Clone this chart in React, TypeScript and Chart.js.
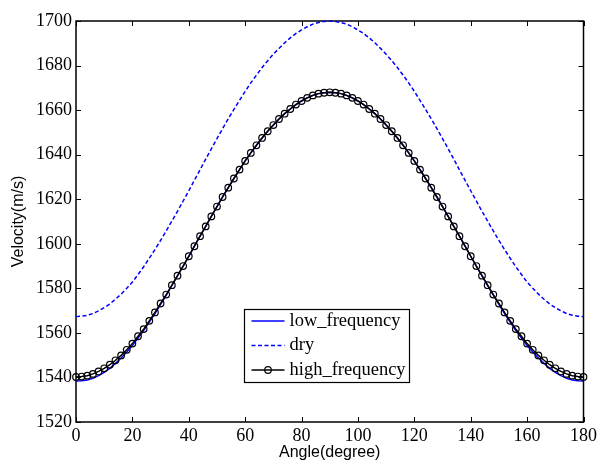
import React, { useEffect, useRef } from "react";
import { Chart, registerables } from "chart.js";

Chart.register(...registerables);

const angles = [
  0, 2, 4, 6, 8, 10, 12, 14, 16, 18, 20, 22, 24, 26, 28, 30, 32, 34, 36, 38,
  40, 42, 44, 46, 48, 50, 52, 54, 56, 58, 60, 62, 64, 66, 68, 70, 72, 74, 76, 78,
  80, 82, 84, 86, 88, 90, 92, 94, 96, 98, 100, 102, 104, 106, 108, 110, 112, 114, 116, 118,
  120, 122, 124, 126, 128, 130, 132, 134, 136, 138, 140, 142, 144, 146, 148, 150, 152, 154, 156, 158,
  160, 162, 164, 166, 168, 170, 172, 174, 176, 178, 180,
];

const lowFrequency = [
  1538.4, 1538.5, 1538.8, 1539.6, 1540.8, 1542.3, 1544.1, 1546.3, 1548.7, 1551.4,
  1554.3, 1557.7, 1561.0, 1564.8, 1568.7, 1572.8, 1576.9, 1581.2, 1585.6, 1590.0,
  1594.4, 1598.9, 1603.4, 1607.8, 1612.3, 1616.7, 1621.0, 1625.2, 1629.3, 1633.3,
  1637.2, 1640.8, 1644.2, 1647.5, 1650.5, 1653.3, 1656.0, 1658.4, 1660.5, 1662.5,
  1664.1, 1665.5, 1666.6, 1667.4, 1667.8, 1668.0,
  1667.8, 1667.4, 1666.6, 1665.5, 1664.1, 1662.5, 1660.5, 1658.4, 1656.0, 1653.3,
  1650.5, 1647.5, 1644.2, 1640.8, 1637.2, 1633.3, 1629.3, 1625.2, 1621.0, 1616.7,
  1612.3, 1607.8, 1603.4, 1598.9, 1594.4, 1590.0, 1585.6, 1581.2, 1576.9, 1572.8,
  1568.7, 1564.8, 1561.0, 1557.7, 1554.3, 1551.4, 1548.7, 1546.3, 1544.1, 1542.3,
  1540.8, 1539.6, 1538.8, 1538.5, 1538.4,
];

const dry = [
  1567.3, 1567.5, 1567.9, 1568.7, 1569.9, 1571.3, 1573.0, 1575.1, 1577.4, 1580.0,
  1582.8, 1586.2, 1589.7, 1593.5, 1597.4, 1601.5, 1605.8, 1610.2, 1614.6, 1619.2,
  1623.8, 1628.5, 1633.2, 1638.0, 1642.6, 1647.2, 1651.7, 1656.1, 1660.3, 1664.4,
  1668.4, 1672.2, 1675.7, 1679.1, 1682.2, 1685.1, 1687.7, 1690.2, 1692.4, 1694.4,
  1696.0, 1697.4, 1698.6, 1699.3, 1699.8, 1700.0,
  1699.8, 1699.3, 1698.6, 1697.4, 1696.0, 1694.4, 1692.4, 1690.2, 1687.7, 1685.1,
  1682.2, 1679.1, 1675.7, 1672.2, 1668.4, 1664.4, 1660.3, 1656.1, 1651.7, 1647.2,
  1642.6, 1638.0, 1633.2, 1628.5, 1623.8, 1619.2, 1614.6, 1610.2, 1605.8, 1601.5,
  1597.4, 1593.5, 1589.7, 1586.2, 1582.8, 1580.0, 1577.4, 1575.1, 1573.0, 1571.3,
  1569.9, 1568.7, 1567.9, 1567.5, 1567.3,
];

const highFrequency = [
  1540.2, 1540.4, 1540.8, 1541.6, 1542.7, 1544.1, 1545.7, 1547.7, 1549.9, 1552.4,
  1555.2, 1558.5, 1561.7, 1565.4, 1569.2, 1573.2, 1577.2, 1581.4, 1585.7, 1590.0,
  1594.4, 1598.9, 1603.4, 1607.8, 1612.3, 1616.7, 1621.0, 1625.2, 1629.3, 1633.3,
  1637.2, 1640.8, 1644.2, 1647.5, 1650.5, 1653.3, 1656.0, 1658.4, 1660.5, 1662.5,
  1664.1, 1665.5, 1666.6, 1667.4, 1667.8, 1668.0,
  1667.8, 1667.4, 1666.6, 1665.5, 1664.1, 1662.5, 1660.5, 1658.4, 1656.0, 1653.3,
  1650.5, 1647.5, 1644.2, 1640.8, 1637.2, 1633.3, 1629.3, 1625.2, 1621.0, 1616.7,
  1612.3, 1607.8, 1603.4, 1598.9, 1594.4, 1590.0, 1585.7, 1581.4, 1577.2, 1573.2,
  1569.2, 1565.4, 1561.7, 1558.5, 1555.2, 1552.4, 1549.9, 1547.7, 1545.7, 1544.1,
  1542.7, 1541.6, 1540.8, 1540.4, 1540.2,
];

const seriesNames = ["low_frequency", "dry", "high_frequency"];
const xLabel = "Angle(degree)";
const yLabel = "Velocity(m/s)";

const toPoints = (ys: number[]) => angles.map((a, i) => ({ x: a, y: ys[i] }));

const framePlugin = {
  id: "frame",
  beforeDatasetsDraw(chart: any) {
    const { ctx, chartArea, scales } = chart;
    const { left, right, top, bottom } = chartArea;
    const xs = scales.x;
    const ys = scales.y;
    ctx.save();
    ctx.strokeStyle = "#000";
    ctx.lineWidth = 1;
    const tl = 5;
    xs.ticks.forEach((t: any) => {
      const px = Math.round(xs.getPixelForValue(t.value)) + 0.5;
      ctx.beginPath();
      ctx.moveTo(px, bottom);
      ctx.lineTo(px, bottom - tl);
      ctx.moveTo(px, top);
      ctx.lineTo(px, top + tl);
      ctx.stroke();
    });
    ys.ticks.forEach((t: any) => {
      const py = Math.round(ys.getPixelForValue(t.value)) + 0.5;
      ctx.beginPath();
      ctx.moveTo(left, py);
      ctx.lineTo(left + tl, py);
      ctx.moveTo(right, py);
      ctx.lineTo(right - tl, py);
      ctx.stroke();
    });
    ctx.lineWidth = 1.5;
    ctx.strokeRect(left, top, right - left, bottom - top);
    ctx.restore();
  },
};

const legendPlugin = {
  id: "boxLegend",
  afterDatasetsDraw(chart: any) {
    const { ctx, chartArea } = chart;
    const x0 = Math.round(chartArea.left + 168) + 0.5;
    const y0 = Math.round(chartArea.top + 288) + 0.5;
    const w = 165;
    const h = 73;
    ctx.save();
    ctx.fillStyle = "#fff";
    ctx.fillRect(x0, y0, w, h);
    ctx.strokeStyle = "#000";
    ctx.lineWidth = 1.2;
    ctx.strokeRect(x0, y0, w, h);
    chart.data.datasets.forEach((ds: any, i: number) => {
      const cy = y0 + 11.5 + i * 24.5;
      ctx.beginPath();
      ctx.setLineDash(ds.borderDash || []);
      ctx.strokeStyle = ds.borderColor;
      ctx.lineWidth = ds.borderWidth;
      ctx.moveTo(x0 + 7, cy);
      ctx.lineTo(x0 + 40, cy);
      ctx.stroke();
      ctx.setLineDash([]);
      if (ds.pointRadius > 0) {
        ctx.beginPath();
        ctx.lineWidth = ds.pointBorderWidth;
        ctx.strokeStyle = ds.pointBorderColor;
        ctx.arc(x0 + 23.5, cy, ds.pointRadius, 0, Math.PI * 2);
        ctx.stroke();
      }
      ctx.fillStyle = "#000";
      ctx.font = '18.5px "Liberation Serif", "Times New Roman", serif';
      ctx.textBaseline = "middle";
      ctx.textAlign = "left";
      ctx.fillText(ds.label, x0 + 45, cy);
    });
    ctx.restore();
  },
};

export default function App() {
  const canvasRef = useRef<HTMLCanvasElement | null>(null);

  useEffect(() => {
    document.body.style.margin = "0";
    const canvas = canvasRef.current;
    if (!canvas) return;
    const tickFont = { family: '"Liberation Serif", "Times New Roman", serif', size: 18 };
    const titleFont = { family: '"Liberation Sans", Arial, sans-serif', size: 16 };
    const chart = new Chart(canvas, {
      type: "line",
      data: {
        datasets: [
          {
            label: seriesNames[0],
            data: toPoints(lowFrequency),
            borderColor: "#0000ff",
            borderWidth: 1.5,
            pointRadius: 0,
            pointBorderWidth: 0,
            pointBorderColor: "#0000ff",
            fill: false,
            tension: 0,
            order: 2,
            clip: false,
          } as any,
          {
            label: seriesNames[1],
            data: toPoints(dry),
            borderColor: "#0000ff",
            borderWidth: 1.5,
            borderDash: [4, 2.5],
            pointRadius: 0,
            pointBorderWidth: 0,
            pointBorderColor: "#0000ff",
            fill: false,
            tension: 0,
            order: 1,
            clip: false,
          } as any,
          {
            label: seriesNames[2],
            data: toPoints(highFrequency),
            borderColor: "#000000",
            borderWidth: 1.5,
            pointRadius: 3.3,
            pointBorderWidth: 1.2,
            pointBorderColor: "#000000",
            pointBackgroundColor: "rgba(0,0,0,0)",
            pointStyle: "circle",
            fill: false,
            tension: 0,
            order: 0,
            clip: false,
          } as any,
        ],
      },
      options: {
        animation: false,
        responsive: false,
        devicePixelRatio: 1,
        layout: { padding: { left: 0, right: 16, top: 21, bottom: 0 } },
        plugins: {
          legend: { display: false },
          tooltip: { enabled: false },
        },
        events: [],
        scales: {
          x: {
            type: "linear",
            min: 0,
            max: 180,
            grid: { display: false, drawTicks: false },
            border: { display: false },
            ticks: {
              stepSize: 20,
              autoSkip: false,
              maxRotation: 0,
              padding: 3,
              color: "#000",
              font: tickFont,
              callback: (v: any) => String(v),
            },
            title: {
              display: true,
              text: xLabel,
              color: "#000",
              font: titleFont,
              padding: { top: 0, bottom: 0 },
            },
            afterFit: (s: any) => {
              s.height = 40;
            },
          },
          y: {
            type: "linear",
            min: 1520,
            max: 1700,
            grid: { display: false, drawTicks: false },
            border: { display: false },
            ticks: {
              stepSize: 20,
              autoSkip: false,
              padding: 4,
              color: "#000",
              font: tickFont,
              callback: (v: any) => String(v),
            },
            title: {
              display: true,
              text: yLabel,
              color: "#000",
              font: titleFont,
              padding: { top: 9, bottom: 0 },
            },
            afterFit: (s: any) => {
              s.width = 76;
            },
          },
        },
      } as any,
      plugins: [framePlugin, legendPlugin],
    });
    return () => chart.destroy();
  }, []);

  return (
    <canvas
      ref={canvasRef}
      width={600}
      height={462}
      style={{ display: "block", position: "absolute", left: 0, top: 0, width: 600, height: 462 }}
    />
  );
}
